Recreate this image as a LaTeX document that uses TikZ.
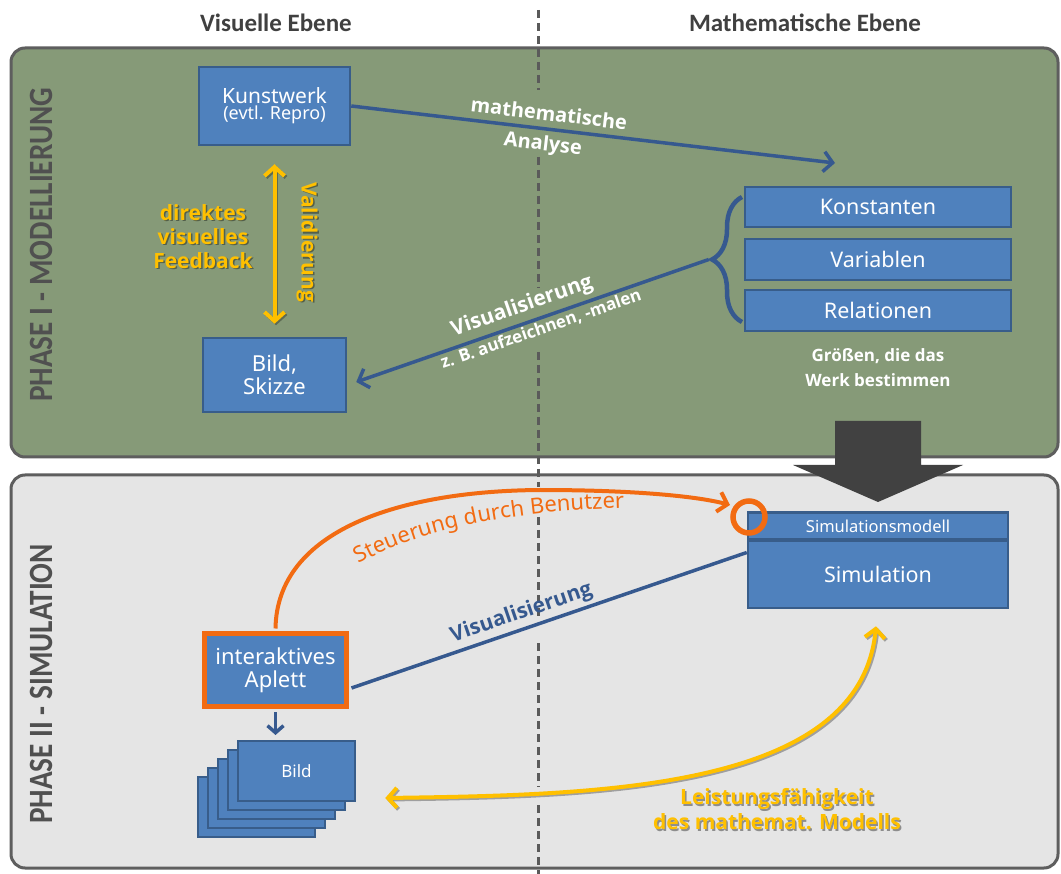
\documentclass[tikz,border=0pt]{standalone}
\usepackage{fontspec}
\setmainfont{Noto Sans}
\newfontfamily\boldsans{Open Sans}
\newfontfamily\headfont{Carlito}
\newfontfamily\phasefont[FakeStretch=0.86]{Carlito}
\usetikzlibrary{arrows.meta,decorations.pathreplacing,decorations.text,calc}

\definecolor{phaseonegreen}{HTML}{869A78}
\definecolor{phasetwogray}{HTML}{E5E5E5}
\definecolor{framegray}{HTML}{5E5E5E}
\definecolor{dividergray}{HTML}{5A5A5A}
\definecolor{boxfill}{HTML}{4F81BD}
\definecolor{boxline}{HTML}{385D8A}
\definecolor{connblue}{HTML}{36598F}
\definecolor{goldyellow}{HTML}{FFC000}
\definecolor{signalorange}{HTML}{F26B12}
\definecolor{darkarrow}{HTML}{414141}
\definecolor{headgray}{HTML}{404040}
\definecolor{phasegray}{HTML}{505050}

\newcommand{\fsz}[2]{\fontsize{#1}{#2}\selectfont}
\newcommand{\bsans}{\boldsans\bfseries}
% label with a soft dark drop shadow: name, position, style, text
\newcommand{\shadowlabel}[4]{%
  \node[#3, text=black, text opacity=.38] (#1shadow) at ($#2+(1.5,1.5)$) {#4};
  \node[#3] (#1) at #2 {#4};}

\begin{document}
\begin{tikzpicture}[x=1pt, y=-1pt,
  box/.style={draw=boxline, line width=2.5pt, fill=boxfill, text=white, align=center, inner sep=0pt},
  conn/.style={draw=connblue, line width=3.5pt},
  barb/.style={-{Straight Barb[length=9pt,width=20pt]}},
  dbarb/.style={{Straight Barb[length=9pt,width=20pt]}-{Straight Barb[length=9pt,width=20pt]}},
  whitelabel/.style={text=white, font=\bsans\fsz{20}{24}, inner sep=0pt},
  goldlabel/.style={text=goldyellow, font=\bsans\fsz{21}{24}, align=center, inner sep=0pt},
  goldline/.style={draw=goldyellow, line width=4pt},
  goldshadow/.style={draw=black, draw opacity=.3, line width=4pt, transform canvas={xshift=1.5pt, yshift=-1.5pt}},
  divider/.style={draw=dividergray, line width=3pt, dash pattern=on 8pt off 5pt},
  frame/.style={draw=framegray, line width=3pt, rounded corners=14pt},
  heading/.style={text=headgray, font=\headfont\bfseries\fsz{25}{30}},
  phaselabel/.style={text=phasegray, font=\phasefont\bfseries\fsz{34}{40}, rotate=90, inner sep=0pt},
]
\fill[white] (0,0) rectangle (1061,874);
\useasboundingbox (0,0) rectangle (1061,874);

% the two phase panels
\draw[frame, fill=phaseonegreen] (11,48) rectangle (1058,457);
\draw[frame, fill=phasetwogray] (11,475) rectangle (1058,868);

% dashed divider between the visual and the mathematical level
\foreach \a/\b in {10/90, 157/288, 352/487, 517/620, 643/787, 805/874}
  \draw[divider] (538,\a) -- (538,\b);

% column headings and phase titles
\node[heading, anchor=base] (hvis) at (276,32) {Visuelle Ebene};
\node[heading, anchor=base] (hmath) at (805,32) {Mathematische Ebene};
\node[phaselabel] (phase1) at (41,245) {PHASE I - MODELLIERUNG};
\node[phaselabel] (phase2) at (41,684) {PHASE II - SIMULATION};

% ---------------- Phase I ----------------
\node[box, minimum width=151pt, minimum height=78pt] (kunst) at (274.5,106)
  {\fsz{21}{22}Kunstwerk\\[1pt]\fsz{18}{21}(evtl. Repro)};
\node[box, minimum width=143pt, minimum height=74pt, font=\fsz{22}{23}] (bild) at (274.5,375) {Bild,\\Skizze};

\node[box, minimum width=266pt, minimum height=40pt, font=\fsz{21.5}{24}] (konst) at (878,207) {Konstanten};
\node[box, minimum width=266pt, minimum height=41pt, font=\fsz{21.5}{24}] (var) at (878,259.5) {Variablen};
\node[box, minimum width=266pt, minimum height=41pt, font=\fsz{21.5}{24}] (rel) at (878,310.5) {Relationen};
\node[whitelabel, font=\bsans\fsz{17}{25}, align=center] (groessen) at (878,368) {Größen, die das\\Werk bestimmen};

% brace grouping the three quantities
\draw[connblue, line width=4.5pt, decorate, decoration={brace, amplitude=30pt}] (742,322) -- (742,197);
\coordinate (bracetip) at ($(var.west)+(-35,0)$);

% mathematical analysis
\coordinate (anatip) at (835,163);
\path (kunst.east) -- (anatip)
  node[whitelabel, pos=.405, sloped, above=8pt] (lblmath) {mathematische}
  node[whitelabel, pos=.40, sloped, below=6pt] (lblana) {Analyse};
\draw[conn, barb] (kunst.east) -- (anatip);

% visualisation back to the sketch
\coordinate (bildin) at ($(bild.east)+(9,7)$);
\path (bracetip) -- (bildin)
  node[whitelabel, font=\bsans\fsz{21}{24}, pos=.514, sloped, above=6pt] (lblvis) {Visualisierung}
  node[whitelabel, font=\bsans\fsz{17}{20}, pos=.486, sloped, below=3pt] (lblzb) {z. B. aufzeichnen, -malen};
\draw[conn, barb] (bracetip) -- (bildin);

% validation by direct visual feedback
\coordinate (valtop) at ($(kunst.south)+(0,18)$);
\coordinate (valbot) at ($(bild.north)+(0,-13)$);
\draw[goldshadow, dbarb] (valtop) -- (valbot);
\draw[goldline, dbarb] (valtop) -- (valbot);
\shadowlabel{feedback}{(203,236.4)}{goldlabel}{direktes\\visuelles\\Feedback}
\shadowlabel{valid}{(307,242)}{goldlabel, rotate=-90}{Validierung}

% transition arrow from phase I to phase II
\fill[darkarrow] (835,421) -- (921,421) -- (921,465) -- (963,465) -- (878,502)
  -- (793,465) -- (835,465) -- cycle;

% ---------------- Phase II ----------------
\node[box, minimum width=260pt, minimum height=27pt, font=\fsz{16.5}{18}] (simmod) at (878,526) {Simulationsmodell};
\node[box, minimum width=260pt, minimum height=67pt, font=\fsz{21.5}{24}] (sim) at (878,574.5) {Simulation};
\node[circle, draw=signalorange, line width=5.5pt, minimum size=32pt, inner sep=0pt] (knob) at (749,517) {};

\node[box, draw=signalorange, line width=5pt, minimum width=142pt, minimum height=73pt, font=\fsz{22}{23}]
  (aplett) at (275.5,670) {interaktives\\Aplett};

% stack of generated pictures
\foreach \i in {4,3,2,1}
  \node[box, minimum width=117pt, minimum height=60pt] (bildstack\i) at ({296.5-10*\i},{771+9*\i}) {};
\node[box, minimum width=117pt, minimum height=60pt, font=\fsz{17}{20}] (bildfront) at (296.5,771) {Bild};

% user control
\coordinate (knobin) at (730,505);
\draw[draw=signalorange, line width=4pt, barb] ($(aplett.north)+(0,-2.5)$)
  .. controls (277,530) and (400,491) .. (540,490)
  .. controls (640,490) and (700,497) .. (knobin);
\path[decorate, decoration={text along path, text align=center,
    text={|\fsz{22}{26}\color{signalorange}|Steuerung durch Benutzer}}]
  (352,568) .. controls (415,530) and (510,510) .. (632,508);

% visualisation of the simulation
\coordinate (aplout) at ($(aplett.east)+(2.5,18)$);
\coordinate (simin) at ($(sim.west)+(0,-22)$);
\path (aplout) -- (simin)
  node[pos=.443, sloped, above=5pt, inner sep=0pt, text=connblue, font=\bsans\fsz{21}{24}] (lblvis2) {Visualisierung};
\draw[conn] (aplout) -- (simin);

\draw[conn, -{Straight Barb[length=7pt,width=16pt]}] ($(aplett.south)+(0,3)$) -- ($(aplett.south)+(0,26)$);

% capability of the mathematical model
\coordinate (perfleft) at ($(bildfront.east)+(29,27)$);
\coordinate (perftop) at ($(sim.south)+(-2,17)$);
\draw[goldshadow, dbarb] (perfleft) .. controls (600,795) and (860,790) .. (perftop);
\draw[goldline, dbarb] (perfleft) .. controls (600,795) and (860,790) .. (perftop);
\shadowlabel{perf}{(777,809.5)}{goldlabel, font=\bsans\fsz{21}{25}}{Leistungsfähigkeit\\des mathemat. Modells}
\end{tikzpicture}
\end{document}
